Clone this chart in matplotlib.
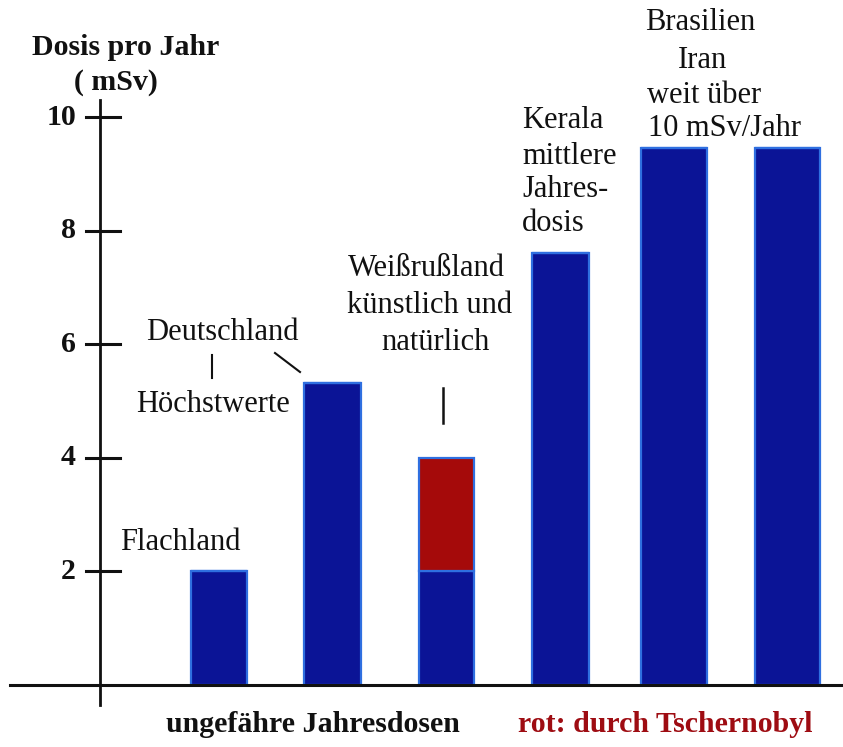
import matplotlib
matplotlib.use("Agg")
import matplotlib.pyplot as plt
from matplotlib.patches import Rectangle

# ---- data ----
categories = ["Flachland", "Deutschland", "Weißrußland", "Kerala", "Brasilien", "Iran"]
natural = [2.0, 5.32, 2.0, 7.6, 9.45, 9.45]
chernobyl = [0.0, 0.0, 2.0, 0.0, 0.0, 0.0]
yticks = [2, 4, 6, 8, 10]

# ---- styles ----
W, H = 843, 747
DARK_BLUE = "#0b1496"
EDGE_BLUE = "#2f6fe0"
RED = "#a50a0a"
SERIF = ["Liberation Serif", "DejaVu Serif"]
FS = 22
FSB = 21.5

fig = plt.figure(figsize=(W / 100, H / 100), dpi=100)
ax = fig.add_axes([0, 0, 1, 1])
ax.set_axis_off()

# pixel mapping: y=0 at px 685, y=10 at px 117; x index 0 at px 219, step 113.7 px
PX_PER_Y = 56.8
Y0_PX = 685
X0_PX = 219
PX_PER_X = 113.7
ax.set_xlim((0 - X0_PX) / PX_PER_X, (W - X0_PX) / PX_PER_X)
ax.set_ylim(-(H - Y0_PX) / PX_PER_Y, Y0_PX / PX_PER_Y)


def px(xp, yp):
    return (xp - X0_PX) / PX_PER_X, (Y0_PX - yp) / PX_PER_Y


xs = list(range(len(categories)))
widths = [0.49, 0.5, 0.48, 0.5, 0.58, 0.57]

ax.bar(xs, natural, width=widths, color=DARK_BLUE, edgecolor=EDGE_BLUE,
       linewidth=1.6, zorder=3)
ax.bar(xs, chernobyl, bottom=natural, width=widths, color=RED,
       edgecolor=EDGE_BLUE, linewidth=1.6, zorder=3)

# axes lines
ax.axhline(0, xmin=10 / W, xmax=1, color="#111111", lw=2.2, zorder=4)
xa, _ = px(100, 0)
ax.plot([xa, xa], [px(0, 100)[1], px(0, 705)[1]], color="#111111", lw=2.0, zorder=4)
for t in yticks:
    x1, _ = px(86, 0)
    x2, _ = px(120, 0)
    ax.plot([x1, x2], [t, t], color="#111111", lw=2.2, zorder=4)
    xl, _ = px(76, 0)
    ax.text(xl, t, str(t), ha="right", va="center", fontsize=FSB,
            fontweight="bold", family=SERIF, color="#111111")

# axis title
ax.text(*px(126, 47), "Dosis pro Jahr", ha="center", va="center", fontsize=FSB,
        fontweight="bold", family=SERIF, color="#111111")
ax.text(*px(116, 82), "( mSv)", ha="center", va="center", fontsize=FSB,
        fontweight="bold", family=SERIF, color="#111111")

tk = dict(fontsize=FS, family=SERIF, color="#111111")
ax.text(*px(180, 543), "Flachland", ha="center", va="center", **tk)
ax.text(*px(222, 332), "Deutschland", ha="center", va="center", **tk)
ax.text(*px(213, 405), "Höchstwerte", ha="center", va="center", **tk)
ax.plot(*zip(px(212, 355), px(212, 378)), color="#111111", lw=1.5)
ax.plot(*zip(px(275, 353), px(300, 372)), color="#111111", lw=1.5)

ax.text(*px(426, 268), "Weißrußland", ha="center", va="center", **tk)
ax.text(*px(430, 305), "künstlich und", ha="center", va="center", **tk)
ax.text(*px(435, 343), "natürlich", ha="center", va="center", **tk)
ax.plot(*zip(px(443, 388), px(443, 423)), color="#111111", lw=1.8)

for line, yp in zip(["Kerala", "mittlere", "Jahres-", "dosis"], [120, 156, 189, 223]):
    ax.text(*px(522, yp), line, ha="left", va="center", zorder=3, **tk)
clip_rect = Rectangle((px(616, 0)[0], px(0, 100)[1]), 0.12, 2.2, facecolor="white",
                      edgecolor="none", zorder=5)
ax.add_patch(clip_rect)

ax.text(*px(700, 23), "Brasilien", ha="center", va="center", **tk)
ax.text(*px(702, 60), "Iran", ha="center", va="center", **tk)
ax.text(*px(704, 95), "weit über", ha="center", va="center", **tk)
ax.text(*px(724, 128), "10 mSv/Jahr", ha="center", va="center", **tk)

ax.text(*px(313, 724), "ungefähre Jahresdosen", ha="center", va="center",
        fontsize=FSB, fontweight="bold", family=SERIF, color="#111111")
ax.text(*px(665, 724), "rot: durch Tschernobyl", ha="center", va="center",
        fontsize=FSB, fontweight="bold", family=SERIF, color="#9e0c12")

fig.savefig("out.png", dpi=100, facecolor="white")
